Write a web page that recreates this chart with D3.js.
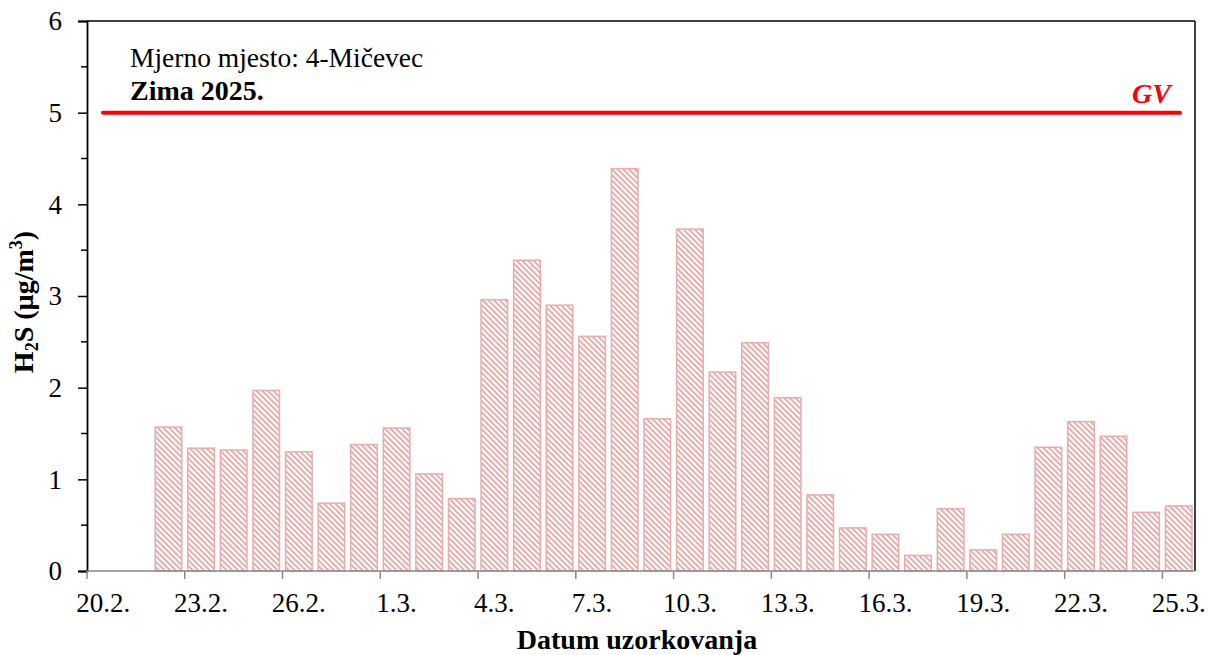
<!DOCTYPE html>
<html><head><meta charset="utf-8">
<script src="https://cdn.jsdelivr.net/npm/d3@7"></script>
<style>body{margin:0;background:#fff}svg{display:block}</style>
</head><body>
<svg id="c" width="1208" height="655"></svg>
<script>
const axisDates = ["20.2.","21.2.","22.2.","23.2.","24.2.","25.2.","26.2.","27.2.","28.2.","1.3.","2.3.","3.3.","4.3.","5.3.","6.3.","7.3.","8.3.","9.3.","10.3.","11.3.","12.3.","13.3.","14.3.","15.3.","16.3.","17.3.","18.3.","19.3.","20.3.","21.3.","22.3.","23.3.","24.3.","25.3."];
const sampleDates = ["22.2.","23.2.","24.2.","25.2.","26.2.","27.2.","28.2.","1.3.","2.3.","3.3.","4.3.","5.3.","6.3.","7.3.","8.3.","9.3.","10.3.","11.3.","12.3.","13.3.","14.3.","15.3.","16.3.","17.3.","18.3.","19.3.","20.3.","21.3.","22.3.","23.3.","24.3.","25.3."];
const h2sValues = [1.57,1.34,1.32,1.97,1.30,0.74,1.38,1.56,1.06,0.79,2.96,3.39,2.90,2.56,4.39,1.66,3.73,2.17,2.49,1.89,0.83,0.47,0.40,0.17,0.68,0.23,0.40,1.35,1.63,1.47,0.64,0.71];
const tickLabels = ["20.2.","23.2.","26.2.","1.3.","4.3.","7.3.","10.3.","13.3.","16.3.","19.3.","22.3.","25.3."];
const yTicks = [0,1,2,3,4,5,6];
const yMinorTicks = [0.5,1.5,2.5,3.5,4.5,5.5];
const limitValue = 5;
const limitLabel = "GV";

const svg = d3.select("#c");
const L = 87, R = 1195, T = 21, B = 571;
const xb = d3.scaleBand().domain(axisDates).range([L, R]);
const y = d3.scaleLinear().domain([0, 6]).range([B, T]);
const serif = "'Liberation Serif','Times New Roman',serif";
const pink = "#e6adad";

const defs = svg.append("defs");
const pat = defs.append("pattern").attr("id","hatch").attr("patternUnits","userSpaceOnUse")
  .attr("width",4).attr("height",4).attr("patternTransform","rotate(-45)");
pat.append("rect").attr("width",4).attr("height",4).attr("fill","#fff");
pat.append("rect").attr("width",2).attr("height",4).attr("fill",pink);

// bars
svg.append("g").selectAll("rect").data(sampleDates.map((d,i)=>({d, v:h2sValues[i]}))).join("rect")
  .attr("x", d => xb(d.d) + 3)
  .attr("width", xb.bandwidth() - 6)
  .attr("y", d => y(d.v))
  .attr("height", d => y(0) - y(d.v))
  .attr("fill","url(#hatch)")
  .attr("stroke", pink).attr("stroke-width",1.5);

// borders
svg.append("line").attr("x1",L).attr("x2",R).attr("y1",T).attr("y2",T).attr("stroke","#000").attr("stroke-width",1.5);
svg.append("line").attr("x1",R).attr("x2",R).attr("y1",T).attr("y2",B).attr("stroke","#000").attr("stroke-width",1.5);

// y axis
const ya = svg.append("g").attr("transform",`translate(${L},0)`)
  .call(d3.axisLeft(y).tickValues(yTicks).tickSize(9).tickFormat(d3.format("d")));
ya.select(".domain").attr("stroke","#000").attr("stroke-width",1.8);
ya.selectAll(".tick line").attr("stroke","#000").attr("stroke-width",1.5);
ya.selectAll(".tick text").attr("font-family",serif).attr("font-size",27).attr("fill","#000").attr("x",-25).attr("dy","0.33em");
svg.append("g").attr("transform",`translate(${L},0)`).selectAll("line").data(yMinorTicks).join("line")
  .attr("x1",-6).attr("x2",0).attr("y1",d=>y(d)).attr("y2",d=>y(d)).attr("stroke","#000").attr("stroke-width",1.5);

// x axis
const xa = svg.append("g").attr("transform",`translate(0,${B})`);
xa.append("line").attr("x1",L).attr("x2",R).attr("stroke","#888").attr("stroke-width",1.5);
const tg = xa.selectAll("g").data(tickLabels).join("g").attr("transform", d => `translate(${xb(d)},0)`);
tg.append("line").attr("y1",0).attr("y2",8).attr("stroke","#888").attr("stroke-width",1.5);
tg.append("text").attr("x", xb.bandwidth()/2).attr("y",41).attr("text-anchor","middle")
  .attr("font-family",serif).attr("font-size",27).attr("fill","#000").text(d=>d);

// limit line
svg.append("line").attr("x1",103).attr("x2",1180).attr("y1",y(limitValue)).attr("y2",y(limitValue))
  .attr("stroke","#ff0000").attr("stroke-width",4).attr("stroke-linecap","round");
svg.append("text").attr("x",1171).attr("y",103).attr("text-anchor","end")
  .attr("font-family",serif).attr("font-size",28).attr("font-weight","bold").attr("font-style","italic")
  .attr("fill","#ff0000").text(limitLabel);

// annotations
svg.append("text").attr("x",130).attr("y",67).attr("font-family",serif).attr("font-size",27.5).attr("fill","#000")
  .text("Mjerno mjesto: 4-Mičevec");
svg.append("text").attr("x",130).attr("y",100).attr("font-family",serif).attr("font-size",28).attr("font-weight","bold").attr("fill","#000")
  .text("Zima 2025.");

// axis titles
svg.append("text").attr("x",637).attr("y",649).attr("text-anchor","middle").attr("font-family",serif)
  .attr("font-size",28).attr("font-weight","bold").attr("fill","#000").text("Datum uzorkovanja");
const yt = svg.append("text").attr("transform",`translate(33,302) rotate(-90)`).attr("text-anchor","middle")
  .attr("font-family",serif).attr("font-size",28).attr("font-weight","bold").attr("fill","#000");
yt.append("tspan").text("H");
yt.append("tspan").attr("font-size",18).attr("dy",5).text("2");
yt.append("tspan").attr("dy",-5).text("S (µg/m");
yt.append("tspan").attr("font-size",18).attr("dy",-11).text("3");
yt.append("tspan").attr("dy",11).text(")");
</script>
</body></html>
